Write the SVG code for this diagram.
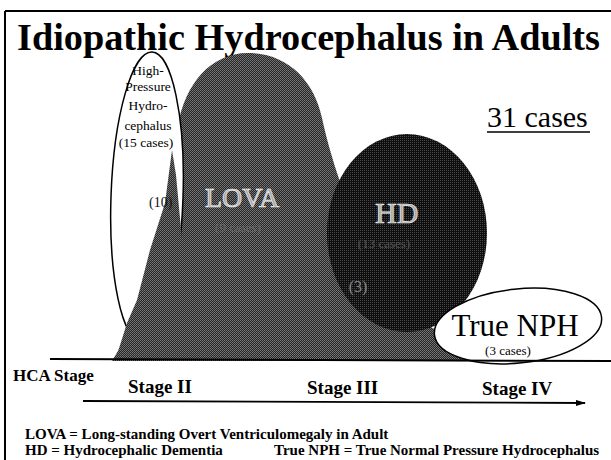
<svg xmlns="http://www.w3.org/2000/svg" width="611" height="460" viewBox="0 0 611 460">
<style>
.ser{font-family:"Liberation Serif","Times New Roman",serif}
.b{font-weight:bold}
.eng{fill:#a8a8a8;stroke:#f4f4f4;stroke-width:0.7}
.ln{stroke:#000;fill:none}
</style>
<defs>
<pattern id="pLova" width="2" height="2" patternUnits="userSpaceOnUse">
<rect width="2" height="2" fill="#262626"/>
<rect width="1" height="1" fill="#7a7a7a"/>
<rect x="1" y="1" width="1" height="1" fill="#6a6a6a"/>
</pattern>
<pattern id="pHD" width="2" height="2" patternUnits="userSpaceOnUse">
<rect width="2" height="2" fill="#0e0e0e"/>
<rect width="1" height="1" fill="#464646"/>
</pattern>
<marker id="arr" markerWidth="10" markerHeight="6" refX="9" refY="3" orient="auto" markerUnits="userSpaceOnUse">
<path d="M0,0 L10,3 L0,6 Z" fill="#000"/>
</marker>
</defs>
<rect width="611" height="460" fill="#fff"/>
<g id="frame">
<line x1="5" y1="11" x2="611" y2="11" class="ln" stroke-width="2"/>
<line x1="5" y1="11" x2="5" y2="460" class="ln" stroke-width="2"/>
</g>
<text class="ser b" x="17" y="50" font-size="38" textLength="583" lengthAdjust="spacingAndGlyphs">Idiopathic Hydrocephalus in Adults</text>
<g id="lova">
<path d="M112 361 L178 250 L178 125 C185 85 210 53 248 53 C287 53 314 80 322 118 C332 165 360 250 400 300 C420 325 450 345 530 357 L535 361 Z" fill="url(#pLova)"/>
</g>
<g id="high-pressure">
<ellipse cx="147" cy="197" rx="36" ry="145" transform="rotate(2 147 197)" fill="#fff" stroke="#000" stroke-width="1.5"/>
<path d="M115 361 L127 323 L137 300 L150 250 L165 203 L172 150 L176 175 L182 240 L190 361 Z" fill="url(#pLova)"/>
<g class="ser" font-size="13.5" text-anchor="middle">
<text x="148" y="75">High-</text>
<text x="148" y="91">Pressure</text>
<text x="148" y="110">Hydro-</text>
<text x="148" y="130">cephalus</text>
<text x="146" y="147">(15 cases)</text>
</g>
<text class="ser" x="149" y="207" font-size="14" fill="#111">(10)</text>
</g>
<g id="hd">
<ellipse cx="407" cy="233" rx="80" ry="99" fill="url(#pHD)"/>
<text class="ser eng" x="375" y="223" font-size="30">HD</text>
<text class="ser" x="384" y="248" font-size="13" text-anchor="middle" fill="#555">(13 cases)</text>
<text class="ser" x="358" y="292" font-size="16" text-anchor="middle" fill="#8a8a8a">(3)</text>
</g>
<g id="lova-label">
<text class="ser eng" x="205" y="207" font-size="28">LOVA</text>
<text class="ser" x="238" y="232" font-size="13" text-anchor="middle" fill="#666">(9 cases)</text>
</g>
<g id="true-nph">
<ellipse cx="518" cy="326" rx="84" ry="37" transform="rotate(-6 518 326)" fill="#fff" stroke="#000" stroke-width="1.5"/>
<text class="ser" x="515" y="336" font-size="31" text-anchor="middle">True NPH</text>
<text class="ser" x="508" y="355" font-size="13" text-anchor="middle">(3 cases)</text>
</g>
<g id="count">
<text class="ser" x="487" y="127" font-size="30">31 cases</text>
<line x1="487" y1="132" x2="590" y2="132" class="ln" stroke-width="1.6"/>
</g>
<g id="connectors">
<line x1="50" y1="359" x2="611" y2="361" class="ln" stroke-width="2"/>
<line x1="83" y1="401" x2="585" y2="403" class="ln" stroke-width="1.8" marker-end="url(#arr)"/>
</g>
<g id="axis-labels" class="ser b">
<text x="13" y="381" font-size="17">HCA Stage</text>
<text x="128" y="393" font-size="19">Stage II</text>
<text x="307" y="394" font-size="19">Stage III</text>
<text x="482" y="395" font-size="19">Stage IV</text>
</g>
<g id="legend" class="ser b" font-size="15">
<text x="25" y="439">LOVA = Long-standing Overt Ventriculomegaly in Adult</text>
<text x="25" y="455">HD = Hydrocephalic Dementia</text>
<text x="274" y="455">True NPH = True Normal Pressure Hydrocephalus</text>
</g>
</svg>
